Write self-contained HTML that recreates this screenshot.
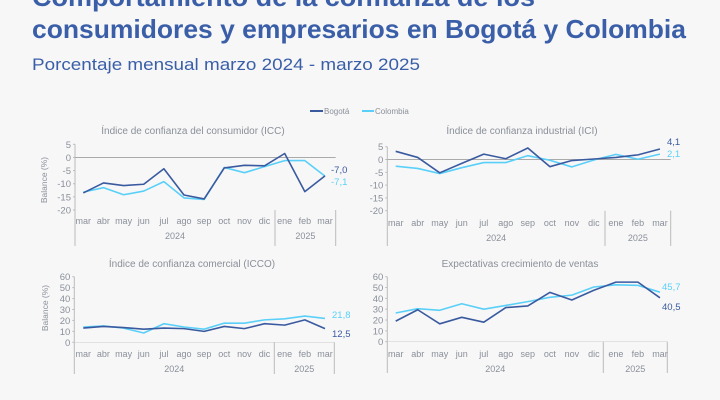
<!DOCTYPE html><html><head><meta charset="utf-8"><style>
html,body{margin:0;padding:0;background:#f7f7f7;width:720px;height:400px;overflow:hidden}
svg{display:block;font-family:"Liberation Sans",sans-serif}
</style></head><body>
<svg id="s" width="720" height="400" xmlns="http://www.w3.org/2000/svg">
<text x="32" y="6" font-size="26" font-weight="bold" fill="#3a5fa8" textLength="503" lengthAdjust="spacingAndGlyphs">Comportamiento de la confianza de los</text>
<text x="32" y="38" font-size="26" font-weight="bold" fill="#3a5fa8" textLength="654" lengthAdjust="spacingAndGlyphs">consumidores y empresarios en Bogotá y Colombia</text>
<text x="32" y="70" font-size="17" fill="#3a5fa8" textLength="388" lengthAdjust="spacingAndGlyphs">Porcentaje mensual marzo 2024 - marzo 2025</text>
<line x1="310" y1="111" x2="323" y2="111" stroke="#3a5aa0" stroke-width="2"/>
<text x="324" y="114" font-size="8" fill="#8a8f99">Bogotá</text>
<line x1="362" y1="111" x2="374" y2="111" stroke="#5ad0f8" stroke-width="2"/>
<text x="375" y="114" font-size="8" fill="#8a8f99">Colombia</text>
</svg>
<script>
var s=document.getElementById('s'),NS='http://www.w3.org/2000/svg';
function el(t,a,txt){var e=document.createElementNS(NS,t);for(var k in a)e.setAttribute(k,a[k]);if(txt!=null)e.textContent=txt;s.appendChild(e);return e;}
var M=['mar','abr','may','jun','jul','ago','sep','oct','nov','dic','ene','feb','mar'];
var G='#8a8f99';
function chart(c){
 var sc=(c.yBot-c.yTop)/(c.vmax-c.vmin);
 function Y(v){return c.yTop+(c.vmax-v)*sc;}
 function X(i){return c.x0+i*c.dx;}
 el('text',{x:c.tc,y:c.ty,'font-size':10,fill:G,'text-anchor':'middle'},c.title);
 el('line',{x1:c.ax,y1:c.yTop,x2:c.ax,y2:c.bot,stroke:'#bbb','stroke-width':1});
 for(var v=c.vmin;v<=c.vmax;v+=c.step){el('text',{x:c.ax-4,y:Y(v)+3.5,'font-size':9.5,fill:G,'text-anchor':'end'},v);
  el('line',{x1:c.ax-2,y1:Y(v),x2:c.ax,y2:Y(v),stroke:'#bbb'});}
 if(c.zero)el('line',{x1:c.ax,y1:Y(0),x2:c.right,y2:Y(0),stroke:'#aaa','stroke-width':1});
 else el('line',{x1:c.ax,y1:Y(0),x2:c.right,y2:Y(0),stroke:'#ccc','stroke-width':0.5});
 el('line',{x1:c.sep,y1:Y(c.vmin),x2:c.sep,y2:c.bot,stroke:'#bbb'});
 el('line',{x1:c.right,y1:Y(c.vmin),x2:c.right,y2:c.bot,stroke:'#bbb'});
 M.forEach(function(m,i){el('text',{x:X(i),y:c.my,'font-size':9,fill:G,'text-anchor':'middle'},m);});
 el('text',{x:(c.ax+c.sep)/2,y:c.yy,'font-size':9,fill:G,'text-anchor':'middle'},'2024');
 el('text',{x:(c.sep+c.right)/2,y:c.yy,'font-size':9,fill:G,'text-anchor':'middle'},'2025');
 if(c.yl)el('text',{x:0,y:0,'font-size':8.5,fill:G,'text-anchor':'middle',transform:'translate('+c.yl[0]+','+c.yl[1]+') rotate(-90)'},'Balance (%)');
 [[c.col,'#5ad0f8'],[c.bog,'#3a5aa0']].forEach(function(p){
  el('polyline',{points:p[0].map(function(v,i){return X(i)+','+Y(v)}).join(' '),fill:'none',stroke:p[1],'stroke-width':1.6,'stroke-linejoin':'round'});});
 el('text',{x:c.lb[0],y:c.lb[1],'font-size':9.5,fill:'#3a5aa0'},c.lb[2]);
 el('text',{x:c.lc[0],y:c.lc[1],'font-size':9.5,fill:'#5ad0f8'},c.lc[2]);
}
chart({title:'Índice de confianza del consumidor (ICC)',tc:193,ty:134,ax:75,x0:83.3,dx:20.14,yTop:144.3,yBot:210,vmin:-20,vmax:5,step:5,bot:246,sep:275,right:335.7,my:224,yy:239,zero:true,yl:[47,180],
 bog:[-13.5,-9.7,-10.7,-10.2,-4.3,-14.3,-15.8,-4,-3,-3.2,1.5,-13,-7],col:[-13.2,-11.5,-14.2,-12.8,-9.2,-15.4,-16,-3.8,-5.8,-3.5,-1.2,-1.2,-7.1],
 lb:[331,173,'-7,0'],lc:[331,185,'-7,1']});
chart({title:'Índice de confianza industrial (ICI)',tc:522,ty:134,ax:387.3,x0:395.7,dx:22.02,yTop:146.7,yBot:210.7,vmin:-20,vmax:5,step:5,bot:246,sep:605,right:670.7,my:226,yy:241,zero:true,
 bog:[3.2,0.8,-5.2,-1.5,2.1,0.3,4.5,-2.8,-0.4,0.2,0.8,1.8,4.1],col:[-2.6,-3.5,-5.5,-3.2,-1.2,-1.2,1.5,-0.3,-2.9,-0.2,2,0.1,2.1],
 lb:[667,145,'4,1'],lc:[667,157,'2,1']});
chart({title:'Índice de confianza comercial (ICCO)',tc:192,ty:267,ax:74.3,x0:83.3,dx:20.14,yTop:276.7,yBot:342.3,vmin:0,vmax:60,step:10,bot:374,sep:274.3,right:334.3,my:357,yy:372,yl:[48,308],
 bog:[13,14.5,13.5,12,13,12.5,10,14.5,12.5,17,15.7,20.5,12.5],col:[14,15,13,8.5,17,14,12,17.5,17.5,20.5,21.5,24,21.8],
 lb:[332,337,'12,5'],lc:[332,318,'21,8']});
chart({title:'Expectativas crecimiento de ventas',tc:520,ty:267,ax:387.3,x0:395.7,dx:22.02,yTop:276.7,yBot:341.7,vmin:0,vmax:60,step:10,bot:373,sep:603.3,right:667.3,my:357,yy:372,
 bog:[19,29.5,16.5,22.5,18,31.5,33,45.5,38.5,47.5,55,55,40.5],col:[26.5,30.5,29,35,30,33.5,37,41,43,50.5,52.5,52,45.7],
 lb:[662,310,'40,5'],lc:[662,290,'45,7']});
</script>
</body></html>
